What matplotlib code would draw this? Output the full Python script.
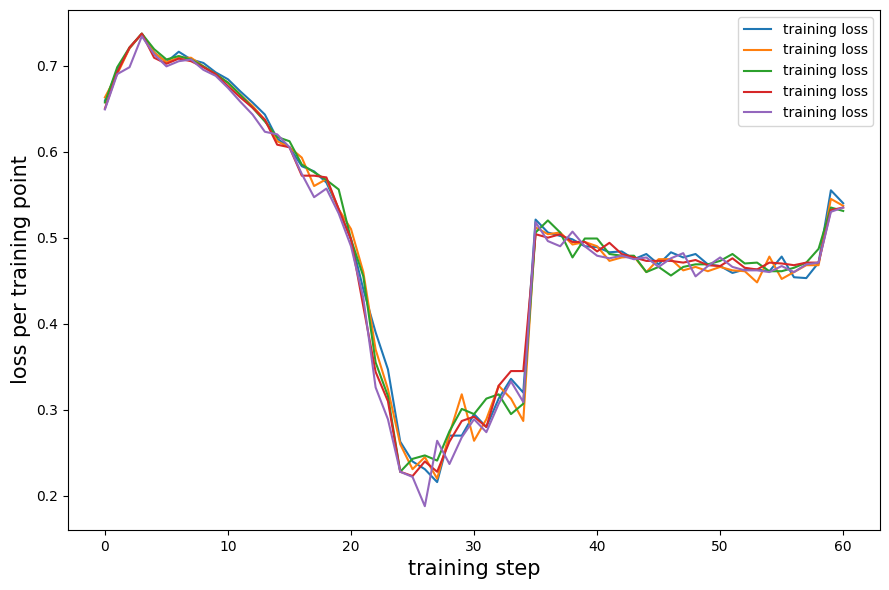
import numpy as np
import matplotlib
matplotlib.use("Agg")
import matplotlib.pyplot as plt

# training loss per step, five runs
steps = np.arange(61)

run_blue = [0.659, 0.694, 0.720, 0.737, 0.715, 0.704, 0.716, 0.707, 0.703, 0.692,
            0.684, 0.670, 0.657, 0.643, 0.615, 0.605, 0.583, 0.577, 0.564, 0.533,
            0.498, 0.440, 0.390, 0.347, 0.263, 0.240, 0.231, 0.216, 0.270, 0.270,
            0.295, 0.280, 0.313, 0.336, 0.320, 0.521, 0.506, 0.502, 0.498, 0.490,
            0.489, 0.483, 0.484, 0.475, 0.481, 0.469, 0.483, 0.477, 0.481, 0.469,
            0.467, 0.459, 0.463, 0.463, 0.461, 0.478, 0.454, 0.453, 0.471, 0.555,
            0.540]
run_orange = [0.663, 0.690, 0.720, 0.737, 0.715, 0.704, 0.709, 0.709, 0.699, 0.690,
              0.680, 0.666, 0.653, 0.637, 0.612, 0.605, 0.593, 0.560, 0.568, 0.533,
              0.510, 0.460, 0.370, 0.324, 0.260, 0.231, 0.245, 0.220, 0.272, 0.318,
              0.264, 0.289, 0.328, 0.313, 0.287, 0.512, 0.504, 0.506, 0.492, 0.495,
              0.490, 0.473, 0.477, 0.478, 0.460, 0.475, 0.475, 0.462, 0.466, 0.461,
              0.466, 0.462, 0.461, 0.448, 0.478, 0.452, 0.460, 0.468, 0.468, 0.545,
              0.537]
run_green = [0.657, 0.698, 0.721, 0.737, 0.719, 0.707, 0.711, 0.707, 0.699, 0.690,
             0.680, 0.666, 0.651, 0.635, 0.617, 0.612, 0.585, 0.576, 0.567, 0.556,
             0.498, 0.455, 0.355, 0.316, 0.228, 0.243, 0.247, 0.241, 0.275, 0.301,
             0.295, 0.313, 0.318, 0.295, 0.307, 0.506, 0.520, 0.506, 0.477, 0.499,
             0.499, 0.481, 0.479, 0.479, 0.460, 0.466, 0.456, 0.466, 0.469, 0.469,
             0.473, 0.481, 0.470, 0.471, 0.461, 0.461, 0.465, 0.471, 0.487, 0.535,
             0.531]
run_red = [0.650, 0.692, 0.721, 0.737, 0.709, 0.702, 0.708, 0.705, 0.698, 0.690,
           0.676, 0.663, 0.651, 0.637, 0.608, 0.605, 0.572, 0.572, 0.570, 0.533,
           0.498, 0.420, 0.344, 0.310, 0.228, 0.223, 0.240, 0.228, 0.263, 0.287,
           0.292, 0.280, 0.328, 0.345, 0.345, 0.504, 0.500, 0.504, 0.495, 0.495,
           0.484, 0.494, 0.481, 0.477, 0.473, 0.473, 0.473, 0.471, 0.474, 0.468,
           0.467, 0.476, 0.465, 0.463, 0.471, 0.470, 0.468, 0.471, 0.471, 0.532,
           0.535]
run_purple = [0.649, 0.690, 0.698, 0.734, 0.713, 0.699, 0.705, 0.707, 0.695, 0.688,
              0.674, 0.658, 0.643, 0.623, 0.620, 0.605, 0.574, 0.547, 0.557, 0.528,
              0.490, 0.430, 0.326, 0.289, 0.228, 0.222, 0.188, 0.264, 0.237, 0.268,
              0.289, 0.274, 0.307, 0.333, 0.309, 0.518, 0.496, 0.490, 0.507, 0.490,
              0.479, 0.476, 0.479, 0.475, 0.477, 0.466, 0.476, 0.482, 0.455, 0.467,
              0.477, 0.466, 0.462, 0.462, 0.460, 0.467, 0.460, 0.469, 0.471, 0.530,
              0.535]

runs = [run_blue, run_orange, run_green, run_red, run_purple]

fig, ax = plt.subplots(figsize=(8.89, 5.9), dpi=100)
for r in runs:
    ax.plot(steps, r, label="training loss")

ax.set_xlabel("training step", fontsize=15)
ax.set_ylabel("loss per training point", fontsize=15)
ax.legend(loc="upper right")
fig.subplots_adjust(left=0.0765, right=0.99, top=0.983, bottom=0.102)
plt.savefig("out.png", dpi=100)
plt.close()
